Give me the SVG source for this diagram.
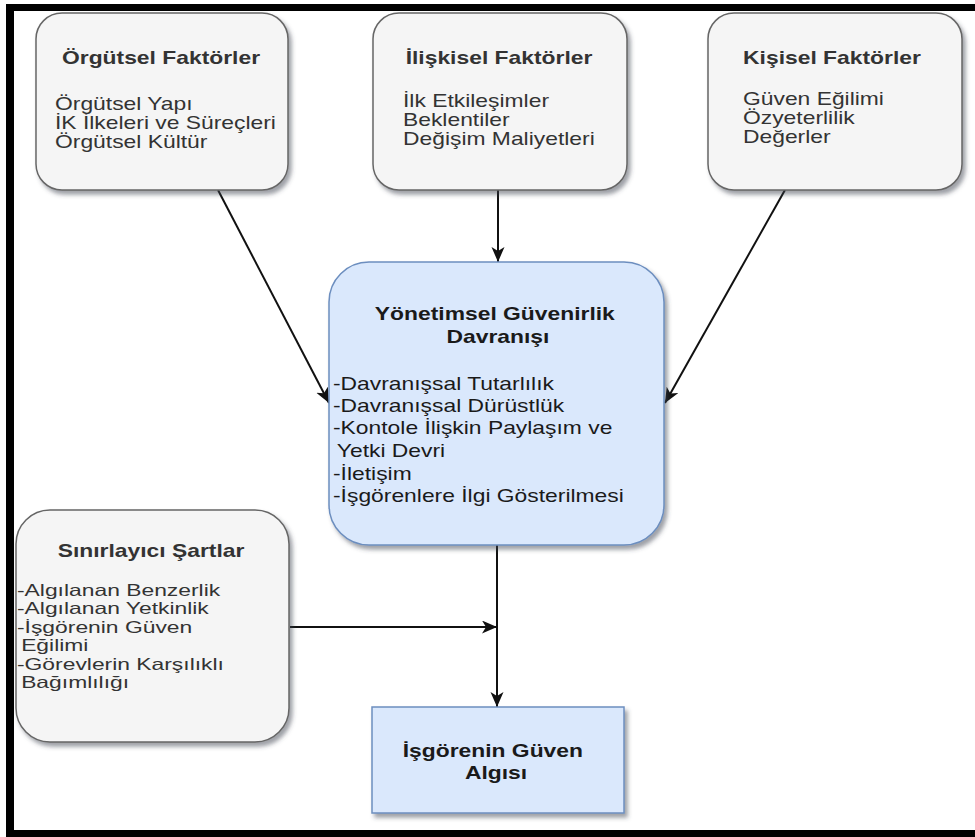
<svg xmlns="http://www.w3.org/2000/svg" width="975" height="837" viewBox="0 0 975 837">
  <style>
    .lbl { font-family: "Liberation Sans", Arial, sans-serif; font-size: 18px; }
    .sm { font-size: 16.5px; }
    .b { font-weight: bold; }
    .gray rect { fill: #f5f5f5; stroke: #666666; stroke-width: 1.5; }
    .blue rect { fill: #dae8fc; stroke: #6c8ebf; stroke-width: 1.5; }
    .gray text { fill: #333333; }
    .blue text { fill: #1a1a1a; }
    .edge { stroke: #111111; stroke-width: 2; fill: none; marker-end: url(#arrow); }
  </style>
  <defs>
    <filter id="shadow" x="-10%" y="-10%" width="125%" height="130%">
      <feDropShadow dx="3" dy="4" stdDeviation="2" flood-color="#3a4250" flood-opacity="0.5"/>
    </filter>
    <marker id="arrow" markerUnits="userSpaceOnUse" markerWidth="16" markerHeight="14" refX="15" refY="6.5" orient="auto">
      <path d="M0,0 L15,6.5 L0,13 L4,6.5 Z" fill="#111111"/>
    </marker>
  </defs>

  <rect x="0" y="0" width="975" height="837" fill="#ffffff"/>

  <!-- outer frame (top, left, bottom bars) -->
  <g id="frame" fill="#000000">
    <rect x="6" y="4" width="969" height="7"/>
    <rect x="6" y="4" width="8" height="833"/>
    <rect x="6" y="830" width="969" height="7"/>
  </g>

  <!-- connectors -->
  <g id="connectors">
    <path class="edge" d="M218,190 L329,403"/>
    <path class="edge" d="M498,190 L498,262"/>
    <path class="edge" d="M785,190 L665,403"/>
    <path class="edge" d="M497,545 L497,707"/>
    <path class="edge" d="M290,627 L497,627"/>
  </g>

  <g id="orgutsel" class="gray">
    <rect x="36" y="13" width="252" height="177" rx="26" ry="26" filter="url(#shadow)"/>
    <text class="lbl b" text-anchor="middle" transform="translate(161 0) scale(1.27 1)" y="64">Örgütsel Faktörler</text>
    <text class="lbl" transform="translate(55 0) scale(1.27 1)">
      <tspan x="0" y="110">Örgütsel Yapı</tspan>
      <tspan x="0" y="129">İK İlkeleri ve Süreçleri</tspan>
      <tspan x="0" y="148">Örgütsel Kültür</tspan>
    </text>
  </g>

  <g id="iliskisel" class="gray">
    <rect x="373" y="13" width="254" height="177" rx="26" ry="26" filter="url(#shadow)"/>
    <text class="lbl b" text-anchor="middle" transform="translate(499 0) scale(1.27 1)" y="64">İlişkisel Faktörler</text>
    <text class="lbl" transform="translate(403 0) scale(1.27 1)">
      <tspan x="0" y="107">İlk Etkileşimler</tspan>
      <tspan x="0" y="126">Beklentiler</tspan>
      <tspan x="0" y="145">Değişim Maliyetleri</tspan>
    </text>
  </g>

  <g id="kisisel" class="gray">
    <rect x="708" y="13" width="254" height="177" rx="26" ry="26" filter="url(#shadow)"/>
    <text class="lbl b" text-anchor="middle" transform="translate(832 0) scale(1.27 1)" y="64">Kişisel Faktörler</text>
    <text class="lbl" transform="translate(743 0) scale(1.27 1)">
      <tspan x="0" y="105">Güven Eğilimi</tspan>
      <tspan x="0" y="124">Özyeterlilik</tspan>
      <tspan x="0" y="143">Değerler</tspan>
    </text>
  </g>

  <g id="yonetimsel" class="blue">
    <rect x="329" y="262" width="335" height="283" rx="40" ry="40" filter="url(#shadow)"/>
    <text class="lbl b" text-anchor="middle" transform="translate(498 0) scale(1.27 1)">
      <tspan x="0" y="320">Yönetimsel Güvenirlik</tspan>
      <tspan x="0" y="343">Davranışı</tspan>
    </text>
    <text class="lbl" transform="translate(333 0) scale(1.27 1)">
      <tspan x="0" y="390">-Davranışsal Tutarlılık</tspan>
      <tspan x="0" y="412">-Davranışsal Dürüstlük</tspan>
      <tspan x="0" y="434">-Kontole İlişkin Paylaşım ve</tspan>
      <tspan x="3" y="457">Yetki Devri</tspan>
      <tspan x="0" y="480">-İletişim</tspan>
      <tspan x="0" y="502">-İşgörenlere İlgi Gösterilmesi</tspan>
    </text>
  </g>

  <g id="sinirlayici" class="gray">
    <rect x="16" y="510" width="273" height="232" rx="34" ry="34" filter="url(#shadow)"/>
    <text class="lbl b" text-anchor="middle" transform="translate(151 0) scale(1.27 1)" y="557">Sınırlayıcı Şartlar</text>
    <text class="lbl sm" transform="translate(17 0) scale(1.385 1)">
      <tspan x="0" y="596">-Algılanan Benzerlik</tspan>
      <tspan x="0" y="614.5">-Algılanan Yetkinlik</tspan>
      <tspan x="0" y="633">-İşgörenin Güven</tspan>
      <tspan x="3" y="651.5">Eğilimi</tspan>
      <tspan x="0" y="670">-Görevlerin Karşılıklı</tspan>
      <tspan x="3" y="688.5">Bağımlılığı</tspan>
    </text>
  </g>

  <g id="isgoren" class="blue">
    <rect x="372" y="707" width="252" height="106" filter="url(#shadow)"/>
    <text class="lbl b" text-anchor="middle" transform="translate(496 0) scale(1.27 1)">
      <tspan x="0" y="757">İşgörenin Güven</tspan>
      <tspan x="0" y="779">Algısı</tspan>
    </text>
  </g>
</svg>
